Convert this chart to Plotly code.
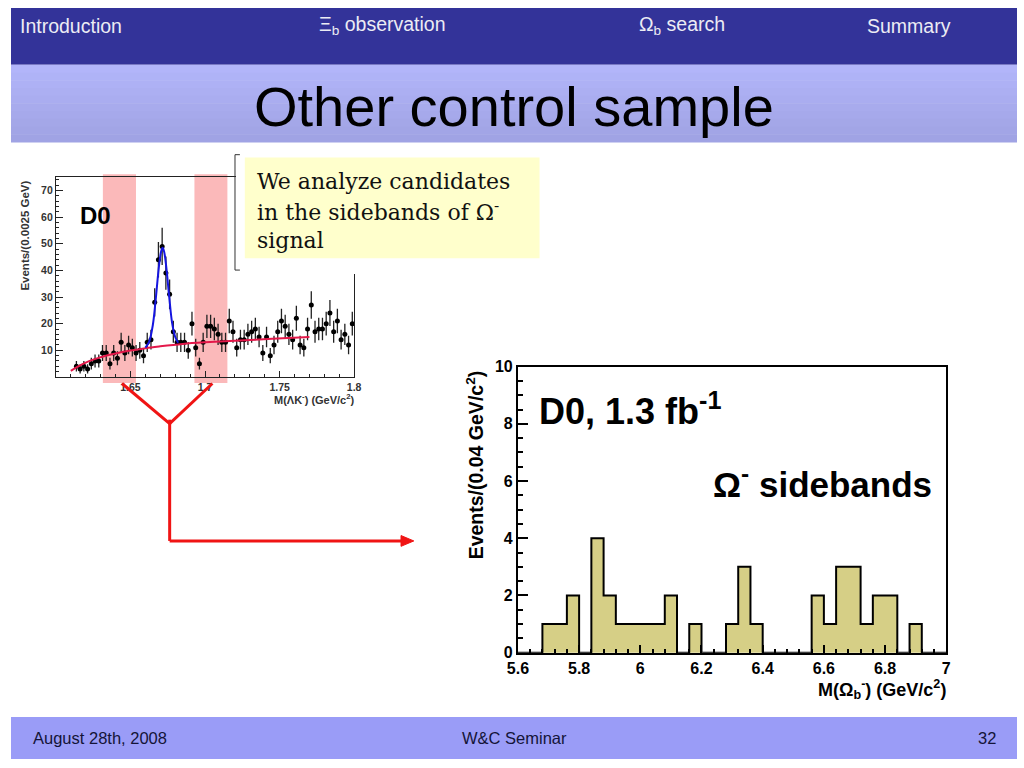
import numpy as np
import plotly.graph_objects as go

W, H = 1024, 768


def px(x):
    return x / W


def py(y):
    return 1 - y / H


# ---------------- data: D0 M(Lambda K-) control plot ----------------
d0_mass_lo = 1.6
d0_bin_width = 0.0025
d0_first_bin = 5
d0_counts = [4, 3, 4, 3, 5, 6, 6, 9, 9, 5,
             9, 7, 13, 9, 12, 11, 9, 10, 8, 13,
             14, 28, 44, 49, 39, 31, 17, 13, 13, 13,
             10, 20, 11, 5, 13, 19, 19, 18, 16, 13,
             13, 21, 17, 11, 14, 14, 16, 17, 18, 15,
             9, 15, 8, 12, 17, 21, 19, 16, 14, 22,
             12, 11, 18, 27, 17, 18, 18, 20, 24, 17,
             21, 14, 16, 12, 20]
# fitted curves
sig_fit_x = [1.6600, 1.6625, 1.6650, 1.6670, 1.6690, 1.6705, 1.6715,
             1.6725, 1.6740, 1.6760, 1.6780, 1.6800, 1.6820]
sig_fit_y = [11.0, 13.2, 19.5, 29.5, 41.0, 47.0, 48.5,
             47.2, 41.3, 30.0, 20.0, 15.0, 12.8]
bkg_fit_x = [1.610, 1.615, 1.620, 1.625, 1.630, 1.640, 1.650, 1.660,
             1.670, 1.685, 1.700, 1.720, 1.745, 1.770]
bkg_fit_y = [2.3, 4.0, 5.4, 6.5, 7.4, 8.8, 9.9, 10.8,
             11.5, 12.4, 13.0, 13.6, 14.3, 15.0]
sideband_lo = [1.6315, 1.6929]
sideband_hi = [1.6537, 1.7150]
d0_xticks = [1.65, 1.7, 1.75, 1.8]
d0_yticks = [10, 20, 30, 40, 50, 60, 70]

# ---------------- data: Omega_b sideband histogram ----------------
omb_lo = 5.6
omb_bin_width = 0.04
omb_counts = [0, 0, 1, 1, 2, 0, 4, 2, 1, 1,
              1, 1, 2, 0, 1, 0, 0, 1, 3, 1,
              0, 0, 0, 0, 2, 1, 3, 3, 1, 2,
              2, 0, 1, 0, 0]

d0_x = [d0_mass_lo + (d0_first_bin + i + 0.5) * d0_bin_width for i in range(len(d0_counts))]
d0_err = list(np.sqrt(d0_counts))
omb_centers = [omb_lo + (i + 0.5) * omb_bin_width for i in range(len(omb_counts))]
omb_edges = [omb_lo + i * omb_bin_width for i in range(len(omb_counts) + 1)]
omb_step_y = omb_counts + [omb_counts[-1]]

FONT = "Liberation Sans"

fig = go.Figure()

# small plot
fig.add_trace(go.Scatter(x=d0_x, y=d0_counts, mode="markers",
                         marker=dict(color="black", size=5),
                         error_y=dict(type="data", array=d0_err, color="#222", thickness=1.3, width=0),
                         xaxis="x", yaxis="y", showlegend=False, hoverinfo="skip"))
fig.add_trace(go.Scatter(x=bkg_fit_x, y=bkg_fit_y, mode="lines", line=dict(color="#e4184a", width=2, shape="spline"),
                         xaxis="x", yaxis="y", showlegend=False))
fig.add_trace(go.Scatter(x=sig_fit_x, y=sig_fit_y, mode="lines", line=dict(color="#1515e0", width=2, shape="spline"),
                         xaxis="x", yaxis="y", showlegend=False))

# histogram
fig.add_trace(go.Bar(x=omb_centers, y=omb_counts, width=omb_bin_width,
                     marker=dict(color="#d6cf86", line=dict(width=0)),
                     xaxis="x2", yaxis="y2", showlegend=False))
fig.add_trace(go.Scatter(x=omb_edges, y=omb_step_y, mode="lines",
                         line=dict(color="black", width=2, shape="hv"),
                         xaxis="x2", yaxis="y2", showlegend=False))

shapes = []
# header bar
shapes.append(dict(type="rect", xref="paper", yref="paper", x0=0, x1=1, y0=py(58), y1=1,
                   fillcolor="#333399", line=dict(width=0), layer="below"))
# title gradient band
c_top = np.array([178, 181, 250])
c_bot = np.array([160, 163, 228])
n_strip = 10
for i in range(n_strip):
    t = i / (n_strip - 1)
    c = (c_top * (1 - t) + c_bot * t).astype(int)
    y0 = 58 + i * (137 - 58) / n_strip
    y1 = 58 + (i + 1) * (137 - 58) / n_strip
    shapes.append(dict(type="rect", xref="paper", yref="paper", x0=0, x1=1, y0=py(y1 + 0.5), y1=py(y0),
                       fillcolor=f"rgb({c[0]},{c[1]},{c[2]})", line=dict(width=0), layer="below"))
# footer bar
shapes.append(dict(type="rect", xref="paper", yref="paper", x0=0, x1=1, y0=0, y1=py(725),
                   fillcolor="#9a9cf7", line=dict(width=0), layer="below"))
# sidebands
for lo, hi in zip(sideband_lo, sideband_hi):
    shapes.append(dict(type="rect", xref="x", yref="y domain", x0=lo, x1=hi, y0=-0.03, y1=1.015,
                       fillcolor="#fbb9ba", line=dict(width=0), layer="below"))
# text box (covers the top-right of small plot)
shapes.append(dict(type="rect", xref="paper", yref="paper", x0=px(229), x1=px(546), y0=py(272), y1=py(143),
                   fillcolor="white", line=dict(width=0), layer="above"))
shapes.append(dict(type="rect", xref="paper", yref="paper", x0=px(238), x1=px(538), y0=py(256), y1=py(153),
                   fillcolor="#ffffcc", line=dict(width=0), layer="above"))
for (xa, ya, xb, yb) in [(228, 150, 228, 268), (228, 150, 233, 150), (228, 268, 233, 268)]:
    shapes.append(dict(type="line", xref="paper", yref="paper", x0=px(xa), y0=py(ya), x1=px(xb), y1=py(yb),
                       line=dict(color="#333", width=1), layer="above"))
# red arrows
RED = "#f01414"
for (xa, ya, xb, yb) in [(113, 384, 161.5, 425), (205, 384, 161.5, 425),
                         (161.5, 421, 161.5, 545), (161.5, 545, 400, 545)]:
    shapes.append(dict(type="line", xref="paper", yref="paper", x0=px(xa), y0=py(ya), x1=px(xb), y1=py(yb),
                       line=dict(color=RED, width=3), layer="above"))
shapes.append(dict(type="path", xref="paper", yref="paper",
                   path=f"M {px(397)} {py(539.5)} L {px(410)} {py(545)} L {px(397)} {py(550.5)} Z",
                   fillcolor=RED, line=dict(color=RED, width=1), layer="above"))

ann = []


def A(text, x, y, size, color="black", xanchor="left", yanchor="middle", family=FONT, angle=0, weight=None):
    f = dict(family=family, size=size, color=color)
    if weight:
        f["weight"] = weight
    ann.append(dict(text=text, x=px(x), y=py(y), xref="paper", yref="paper", showarrow=False,
                    xanchor=xanchor, yanchor=yanchor, font=f, textangle=angle, borderpad=0))


HC = "#ececf4"
A("Introduction", 8, 18, 19.5, HC)
A("Ξ<sub>b</sub> observation", 313, 18, 19.5, HC)
A("Ω<sub>b</sub> search", 638, 18, 19.5, HC)
A("Summary", 870, 18, 19.5, HC)
A("Other control sample", 512, 101, 56, "black", xanchor="center")
FC = "#141438"
A("August 28th, 2008", 21, 747, 16.5, FC)
A("W&C Seminar", 512, 747, 16.5, FC, xanchor="center")
A("32", 1004, 747, 16.5, FC, xanchor="right")
# textbox
TB = "DejaVu Serif"
A("We analyze candidates", 249, 177, 22, "#111", family=TB)
A("in the sidebands of Ω<sup>-</sup>", 249, 208, 22, "#111", family=TB)
A("signal", 249, 238, 22, "#111", family=TB)
# small plot labels
A("D0", 69, 212, 24, weight="bold")
A("Events/(0.0025 GeV)", 14, 233, 11.5, "#333", xanchor="center", angle=-90, weight="bold")
A("M(ΛK<sup>-</sup>) (GeV/c<sup>2</sup>)", 351, 400, 11, "#333", xanchor="right", weight="bold")
# histogram labels
A("D0, 1.3 fb<sup>-1</sup>", 536, 410, 36, weight="bold")
A("Ω<sup>-</sup> sidebands", 938, 485, 35, xanchor="right", weight="bold")
A("Events/(0.04 GeV/c<sup>2</sup>)", 472, 467, 19.5, xanchor="center", angle=-90, weight="bold")
A("M(Ω<sub>b</sub><sup>-</sup>) (GeV/c<sup>2</sup>)", 953, 697, 18, xanchor="right", weight="bold")

small_tick_font = dict(family=FONT, size=10.5, color="#333", weight="bold")
big_tick_font = dict(family=FONT, size=16, color="black", weight="bold")

fig.update_layout(
    width=W, height=H, margin=dict(l=0, r=0, t=0, b=0),
    paper_bgcolor="white", plot_bgcolor="rgba(0,0,0,0)",
    bargap=0, shapes=shapes, annotations=ann, showlegend=False,
    xaxis=dict(domain=[px(45.7), px(349.3)], range=[1.6, 1.8], anchor="y",
               tickmode="array", tickvals=d0_xticks, ticktext=[str(v) for v in d0_xticks],
               ticks="inside", ticklen=6, tickcolor="#222", tickfont=small_tick_font,
               minor=dict(tickmode="linear", tick0=1.6, dtick=0.01, ticks="inside", ticklen=3, tickcolor="#222"),
               showline=True, linecolor="#222", linewidth=1, mirror=True, showgrid=False, zeroline=False),
    yaxis=dict(domain=[py(377.3), py(173)], range=[0, 75], anchor="x",
               tickmode="array", tickvals=d0_yticks, ticktext=[str(v) for v in d0_yticks],
               ticks="inside", ticklen=7, tickcolor="#222", tickfont=small_tick_font,
               minor=dict(tickmode="linear", tick0=0, dtick=2, ticks="inside", ticklen=3, tickcolor="#222"),
               showline=True, linecolor="#222", linewidth=1, mirror=True, showgrid=False, zeroline=False),
    xaxis2=dict(domain=[px(516), px(952)], range=[5.6, 7.0], anchor="y2",
                tickmode="linear", tick0=5.6, dtick=0.2, ticks="inside", ticklen=8, tickwidth=1.5,
                tickcolor="black", tickfont=big_tick_font,
                minor=dict(tickmode="linear", tick0=5.6, dtick=0.04, ticks="inside", ticklen=4, tickcolor="black"),
                showline=True, linecolor="black", linewidth=2, mirror=True, showgrid=False, zeroline=False),
    yaxis2=dict(domain=[py(659.3), py(366.7)], range=[0, 10], anchor="x2",
                tickmode="linear", tick0=0, dtick=2, ticks="inside", ticklen=10, tickwidth=1.5,
                tickcolor="black", tickfont=big_tick_font,
                minor=dict(tickmode="linear", tick0=0, dtick=0.5, ticks="inside", ticklen=5, tickcolor="black"),
                showline=True, linecolor="black", linewidth=2, mirror=True, showgrid=False, zeroline=False),
)

fig.write_html(
    "out.html",
    config={"displayModeBar": False},
    post_script=("var gd=document.getElementById('{plot_id}');"
                 "gd.style.position='fixed';gd.style.left='0px';gd.style.top='0px';"
                 "document.body.style.margin='0';document.body.style.padding='0';"
                 "document.documentElement.style.overflow='hidden';"),
)
